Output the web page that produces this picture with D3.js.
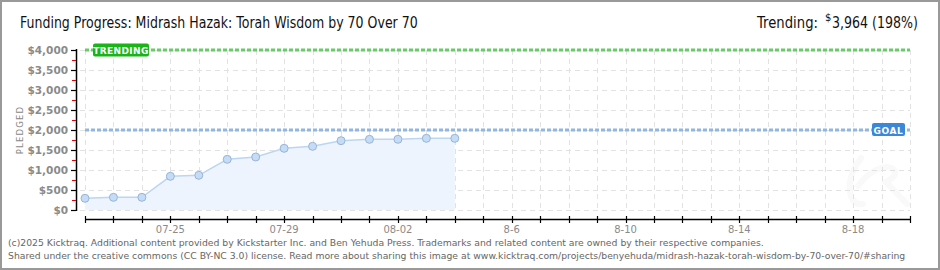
<!DOCTYPE html>
<html><head><meta charset="utf-8">
<script src="https://cdn.jsdelivr.net/npm/d3@7/dist/d3.min.js"></script>
<style>body{margin:0;background:#fff}svg{display:block}</style>
</head><body>
<svg id="c" width="940" height="270"></svg>
<script>
const dates = ["2025-07-22","2025-07-23","2025-07-24","2025-07-25","2025-07-26","2025-07-27","2025-07-28","2025-07-29","2025-07-30","2025-07-31","2025-08-01","2025-08-02","2025-08-03","2025-08-04"];
const pledged = [292, 317, 317, 842, 867, 1267, 1325, 1542, 1592, 1733, 1767, 1767, 1792, 1792];
const yTicks = [0,500,1000,1500,2000,2500,3000,3500,4000];
const xTickLabels = ["07-25","07-29","08-02","8-6","8-10","8-14","8-18"];
const goal = 2000;
const trending = 3964;
const trendingPct = 198;
const titleText = "Funding Progress: Midrash Hazak: Torah Wisdom by 70 Over 70";
const footer1 = "(c)2025 Kicktraq. Additional content provided by Kickstarter Inc. and Ben Yehuda Press. Trademarks and related content are owned by their respective companies.";
const footer2 = "Shared under the creative commons (CC BY-NC 3.0) license. Read more about sharing this image at www.kicktraq.com/projects/benyehuda/midrash-hazak-torah-wisdom-by-70-over-70/#sharing";

const parse = d3.utcParse("%Y-%m-%d");
const svg = d3.select("#c");
const start = parse("2025-07-22"), end = parse("2025-08-20");
const x = d3.scaleUtc().domain([start, end]).range([85, 910]);
const y = d3.scaleLinear().domain([0, 4000]).range([210, 50]);
const days = d3.utcDay.range(start, d3.utcDay.offset(end, 1));
const font = "'DejaVu Sans', sans-serif";

// helper: text horizontally scaled to fit a target width
function fitText(str, px, py, size, width, color){
  const t = svg.append("text").attr("font-family",font).attr("font-size",size).attr("fill",color).text(str);
  const w = t.node().getComputedTextLength();
  t.attr("transform",`translate(${px},${py}) scale(${width/w},1)`);
  return t;
}

// border
svg.append("rect").attr("x",1).attr("y",1).attr("width",938).attr("height",268)
  .attr("fill","#fff").attr("stroke","#999").attr("stroke-width",2);

// watermark (very faint)
const wx = x(parse("2025-08-18"));
svg.append("path")
  .attr("d", `M${wx+8},${y(1300)} C${wx-10},${y(700)} ${wx-5},${y(100)} ${wx+10},${y(150)} M${wx+5},${y(600)} C${wx+28},${y(1400)} ${wx+57},${y(1000)} ${wx+33},${y(700)} L${wx+54},${y(150)}`)
  .attr("fill","none").attr("stroke","#f9f9f9").attr("stroke-width",6).attr("stroke-linecap","round");

// grid
const g = svg.append("g");
g.selectAll("line.h").data(yTicks).join("line")
  .attr("x1",80).attr("x2",910).attr("y1",d=>y(d)+0.5).attr("y2",d=>y(d)+0.5)
  .attr("stroke","#e2e2e2").attr("stroke-dasharray","5,4");
g.selectAll("line.v").data(days).join("line")
  .attr("x1",d=>Math.round(x(d))+0.5).attr("x2",d=>Math.round(x(d))+0.5)
  .attr("y1",y(4000)).attr("y2",y(0))
  .attr("stroke","#e2e2e2").attr("stroke-dasharray","5,4");

// data
const pts = dates.map((d,i)=>({date:parse(d), v:pledged[i]}));
svg.append("path").datum(pts)
  .attr("d", d3.area().x(d=>x(d.date)).y0(y(0)).y1(d=>y(d.v)))
  .attr("fill","#edf4fd");
svg.append("path").datum(pts)
  .attr("d", d3.line().x(d=>x(d.date)).y(d=>y(d.v)))
  .attr("fill","none").attr("stroke","#bcd6f2").attr("stroke-width",1.5);

// goal & trending lines
svg.append("line").attr("x1",85).attr("x2",910).attr("y1",y(goal)).attr("y2",y(goal))
  .attr("stroke","#92b6e2").attr("stroke-width",3).attr("stroke-dasharray","4,2");
svg.append("line").attr("x1",85).attr("x2",910).attr("y1",y(4000)).attr("y2",y(4000))
  .attr("stroke","#66cc66").attr("stroke-width",3).attr("stroke-dasharray","4,2");

svg.selectAll("circle.p").data(pts).join("circle")
  .attr("cx",d=>x(d.date)).attr("cy",d=>y(d.v)).attr("r",4)
  .attr("fill","#c4dcf6").attr("stroke","#98b4d6").attr("stroke-width",1);

// labels on lines
svg.append("rect").attr("x",93).attr("y",y(4000)-6.5).attr("width",56).attr("height",13).attr("rx",2)
  .attr("fill","#18b418");
svg.append("text").attr("x",121).attr("y",y(4000)+4).attr("text-anchor","middle")
  .attr("font-family",font).attr("font-size",9).attr("font-weight","bold").attr("fill","#fff")
  .attr("letter-spacing",0.4).text("TRENDING");
svg.append("rect").attr("x",872).attr("y",y(goal)-7).attr("width",33).attr("height",13).attr("rx",2)
  .attr("fill","#3b87d8");
svg.append("text").attr("x",888.5).attr("y",y(goal)+3.5).attr("text-anchor","middle")
  .attr("font-family",font).attr("font-size",9).attr("font-weight","bold").attr("fill","#fff")
  .attr("letter-spacing",0.6).text("GOAL");

// y axis
const yAxis = svg.append("g");
yAxis.append("line").attr("x1",76.5).attr("x2",76.5).attr("y1",y(4000)-1).attr("y2",y(0)+1).attr("stroke","#000").attr("stroke-width",1.5);
const minor = d3.range(250, 4000, 500);
yAxis.selectAll("line.mn").data(minor).join("line")
  .attr("x1",72).attr("x2",76).attr("y1",d=>y(d)+0.5).attr("y2",d=>y(d)+0.5).attr("stroke","#e00000");
yAxis.selectAll("line.mj").data(yTicks).join("line")
  .attr("x1",71).attr("x2",76).attr("y1",d=>y(d)+0.5).attr("y2",d=>y(d)+0.5).attr("stroke","#000").attr("stroke-width",1.2);
const fmt = d3.format(",");
yAxis.selectAll("text").data(yTicks).join("text")
  .attr("x",68).attr("y",d=>y(d)+4).attr("text-anchor","end")
  .attr("font-family",font).attr("font-size",10.5).attr("font-weight","bold").attr("fill","#8a8a8a")
  .text(d=>"$"+fmt(d));
svg.append("text").attr("transform","translate(23,130) rotate(-90)").attr("text-anchor","middle")
  .attr("font-family",font).attr("font-size",8.5).attr("fill","#888").attr("letter-spacing",1.2).text("PLEDGED");

// x axis
const xa = svg.append("g");
xa.append("line").attr("x1",85).attr("x2",910.5).attr("y1",219.5).attr("y2",219.5).attr("stroke","#000").attr("stroke-width",1.5);
xa.selectAll("line.t").data(days).join("line")
  .attr("x1",d=>Math.round(x(d))+0.5).attr("x2",d=>Math.round(x(d))+0.5).attr("y1",216).attr("y2",223)
  .attr("stroke","#000").attr("stroke-width",1.2);
const labelDays = days.filter((d,i)=> i>=3 && (i-3)%4===0).slice(0, xTickLabels.length);
xa.selectAll("text").data(labelDays).join("text")
  .attr("x",d=>x(d)).attr("y",233).attr("text-anchor","middle")
  .attr("font-family",font).attr("font-size",10).attr("fill","#8a8a8a")
  .text((d,i)=>xTickLabels[i]);

// title and trending
fitText(titleText, 20, 28, 16, 398, "#111");
fitText("Trending:", 757, 28, 16, 61, "#111");
svg.append("text").attr("x",825).attr("y",21).attr("font-family",font).attr("font-size",10).attr("fill","#111").text("$");
fitText(fmt(trending)+" ("+trendingPct+"%)", 832, 28, 16, 86, "#111");

// footer
fitText(footer1, 8, 246, 9.5, 757, "#666");
fitText(footer2, 8, 259, 9.5, 898, "#666");
</script>
</body></html>
